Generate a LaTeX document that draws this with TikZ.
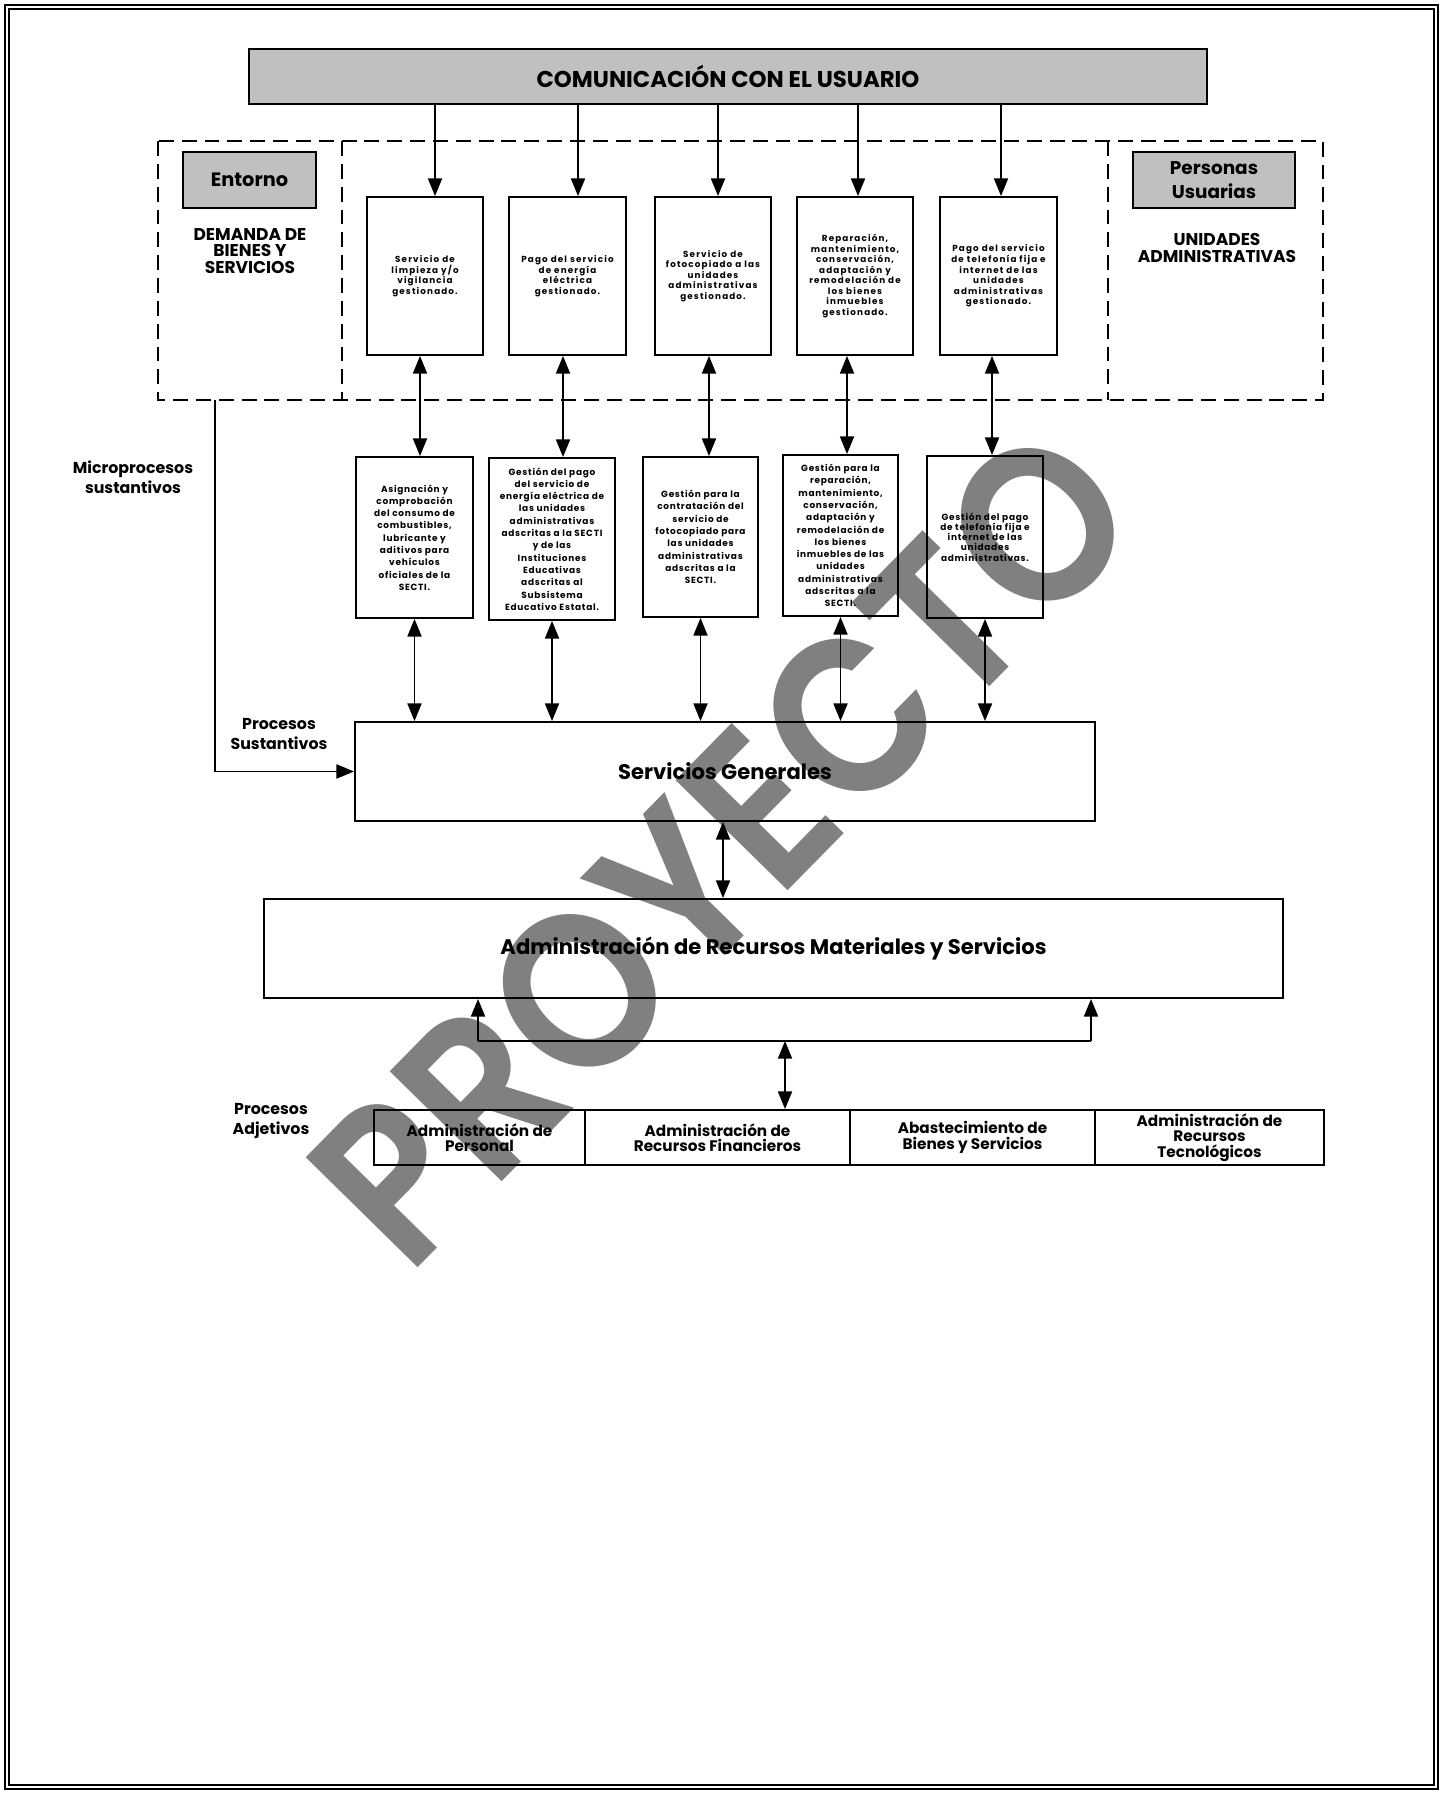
\documentclass[tikz,border=0pt]{standalone}
\usepackage{fontspec}
\setmainfont{Poppins}
\newfontfamily\markfont{Poppins SemiBold}
\usetikzlibrary{arrows.meta, positioning, calc}
\definecolor{boxgray}{HTML}{C0C0C0}
\definecolor{markgray}{HTML}{808080}

\tikzset{
  graybox/.style={draw, fill=boxgray, line width=1.4pt, align=center, inner sep=0pt},
  outbox/.style={draw, line width=1.1pt, align=center, inner sep=1pt},
  dimpx/.style 2 args={minimum width=#1*0.02cm, minimum height=#2*0.02cm},
  dashzone/.style={line width=1.1pt, dash pattern=on 8.5pt off 4.5pt},
  link/.style={line width=0.9pt},
  sidetext/.style={align=center, font=\bfseries\fontsize{9}{11.3}\selectfont},
  toptext/.style={font=\bfseries\fontsize{5}{6}\selectfont\addfontfeatures{LetterSpace=13}},
  midtext/.style={font=\bfseries\fontsize{5.1}{7}\selectfont\addfontfeatures{LetterSpace=8}},
  basetext/.style={font=\bfseries\fontsize{8.7}{8.8}\selectfont}
}

\begin{document}
\begin{tikzpicture}[x=0.02cm, y=-0.02cm, >={Triangle[width=8pt,length=10pt]}]
  \useasboundingbox (0,0) rectangle (1443,1794);
  % page frame
  \draw[line width=1.1pt] (5,5) rectangle (1438,1789);
  \draw[line width=0.6pt] (9,9) rectangle (1434,1785);

  % watermark
  \node[text=markgray, rotate=45.5, xscale=0.88, font=\markfont\fontsize{128}{128}\selectfont] (sello) at (722,846) {PROYECTO};

  % entorno / usuarios zone
  \draw[dashzone] (158,141) rectangle (1323,400);
  \draw[dashzone] (342,141) -- (342,400);
  \draw[dashzone] (1108,141) -- (1108,400);

  \node[graybox, dimpx={958}{55}, font=\bfseries\fontsize{13}{15}\selectfont] (usuario) at (728,76.5) {COMUNICACIÓN CON EL USUARIO};
  \node[graybox, dimpx={133}{56}, font=\bfseries\fontsize{11}{13}\selectfont] (entorno) at (249.5,180) {Entorno};
  \node[graybox, dimpx={162}{56}, font=\bfseries\fontsize{10.5}{14}\selectfont] (personas) at (1214,180) {Personas\\Usuarias};
  \node[align=center, font=\bfseries\fontsize{9.7}{9.3}\selectfont] (demanda) at (250,251) {DEMANDA DE\\BIENES Y\\SERVICIOS};
  \node[align=center, font=\bfseries\fontsize{9.7}{9.3}\selectfont] (unidades) at (1217,248) {UNIDADES\\ADMINISTRATIVAS};

  % productos
  \node[outbox, toptext, dimpx={116}{158}] (r1) at (425,276) {Servicio de\\limpieza y/o\\vigilancia\\gestionado.};
  \node[outbox, toptext, dimpx={117}{158}] (r2) at (567.5,276) {Pago del servicio\\de energía\\eléctrica\\gestionado.};
  \node[outbox, toptext, dimpx={116}{158}] (r3) at (713,276) {Servicio de\\fotocopiado a las\\unidades\\administrativas\\gestionado.};
  \node[outbox, toptext, dimpx={116}{158}] (r4) at (855,276) {Reparación,\\mantenimiento,\\conservación,\\adaptación y\\remodelación de\\los bienes\\inmuebles\\gestionado.};
  \node[outbox, toptext, dimpx={117}{158}] (r5) at (998.5,276) {Pago del servicio\\de telefonía fija e\\internet de las\\unidades\\administrativas\\gestionado.};

  % microprocesos
  \node[outbox, midtext, dimpx={117}{161}] (m1) at (414.5,537.5) {Asignación y\\comprobación\\del consumo de\\combustibles,\\lubricante y\\aditivos para\\vehículos\\oficiales de la\\SECTI.};
  \node[outbox, midtext, dimpx={126}{162}] (m2) at (552,539) {Gestión del pago\\del servicio de\\energía eléctrica de\\las unidades\\administrativas\\adscritas a la SECTI\\y de las\\Instituciones\\Educativas\\adscritas al\\Subsistema\\Educativo Estatal.};
  \node[outbox, midtext, dimpx={115}{160}] (m3) at (700.5,537) {Gestión para la\\contratación del\\servicio de\\fotocopiado para\\las unidades\\administrativas\\adscritas a la\\SECTI.};
  \node[outbox, midtext, dimpx={115}{161}] (m4) at (840.5,535.5) {Gestión para la\\reparación,\\mantenimiento,\\conservación,\\adaptación y\\remodelación de\\los bienes\\inmuebles de las\\unidades\\administrativas\\adscritas a la\\SECTI.};
  \node[outbox, dimpx={116}{162}, font=\bfseries\fontsize{5.1}{5.8}\selectfont\addfontfeatures{LetterSpace=8}] (m5) at (985,537) {Gestión del pago\\de telefonía fija e\\internet de las\\unidades\\administrativas.};

  % procesos
  \node[outbox, dimpx={740}{99}, font=\bfseries\fontsize{12}{14}\selectfont] (sg) at (725,771.5) {Servicios Generales};
  \node[outbox, dimpx={1019}{99}, font=\bfseries\fontsize{12}{14}\selectfont] (arms) at (773.5,948.5) {Administración de Recursos Materiales y Servicios};

  \node[outbox, basetext, dimpx={211}{55}] (b1) at (479.5,1137.5) {Administración de\\Personal};
  \node[outbox, basetext, dimpx={265}{55}] (b2) at (717.5,1137.5) {Administración de\\Recursos Financieros};
  \node[outbox, basetext, dimpx={245}{55}] (b3) at (972.5,1137.5) {Abastecimiento de\\Bienes y Servicios};
  \node[outbox, basetext, dimpx={229}{55}] (b4) at (1209.5,1137.5) {Administración de\\Recursos\\Tecnológicos};

  \node[sidetext] (micro) at (133,477) {Microprocesos\\sustantivos};
  \node[sidetext] (psust) at (279,734) {Procesos\\Sustantivos};
  \node[sidetext] (padj) at (271,1121) {Procesos\\Adjetivos};

  % connectors
  \foreach \n/\x in {r1/435, r2/578, r3/718, r4/858, r5/1001}
    \draw[link,->] (usuario.south -| \x,0) -- (\n.north -| \x,0);
  \foreach \a/\b/\x in {r1/m1/420, r2/m2/563, r3/m3/709, r4/m4/847, r5/m5/992}
    \draw[link,<->] (\a.south -| \x,0) -- (\b.north -| \x,0);
  \foreach \n in {m1, m2, m3, m4, m5}
    \draw[link,<->] (\n.south) -- (\n.south |- sg.north);
  \draw[link,<->] (sg.south -| 723,0) -- (arms.north -| 723,0);

  \coordinate (feed) at (215,400);
  \draw[link,->] (feed) |- (sg.west);

  \coordinate (jl) at (478,1041);
  \coordinate (jr) at (1091,1041);
  \coordinate (jm) at (785,1041);
  \draw[link] (jl) -- (jr);
  \draw[link,->] (jl) -- (jl |- arms.south);
  \draw[link,->] (jr) -- (jr |- arms.south);
  \draw[link,<->] (jm) -- (jm |- b2.north);
\end{tikzpicture}
\end{document}
